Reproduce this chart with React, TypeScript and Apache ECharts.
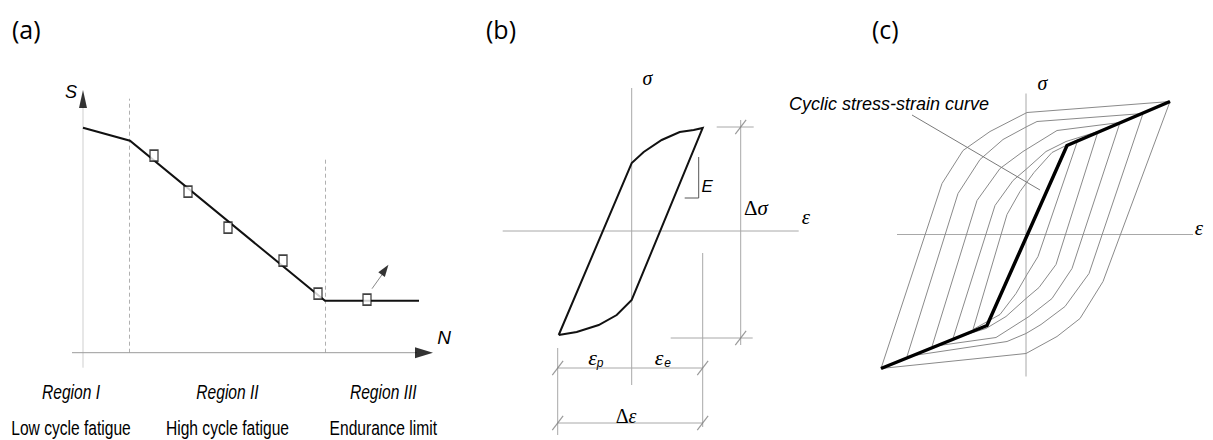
import React, { useEffect, useRef } from "react";
import * as echarts from "echarts";

// ---------- (a) S-N curve (arbitrary units, origin at the axes crossing) ----------
const snCycles = [0, 4.7, 24.2, 33.6];
const snStress = [22.5, 21.2, 5.2, 5.2];
const testCycles = [7.1, 10.5, 14.5, 20.0, 23.5, 28.4];
const testStress = [19.7, 16.1, 12.5, 9.2, 5.9, 5.3];
const regionBoundCycles = [4.65, 24.25];
const regionBoundTop = [25.4, 19.5];
const runoutArrowCycles = [28.9, 29.9];
const runoutArrowStress = [6.4, 7.8];
const runoutHead = [30.2, 8.3];
const regionNames = ["Region I", "Region II", "Region III"];
const regionTypes = ["Low cycle fatigue", "High cycle fatigue", "Endurance limit"];

// ---------- (b) single hysteresis loop ----------
const loopStrain = [-7.3, 0, 1.2, 3.0, 4.8, 6.2, 7.1, 0, -1.5, -3.3, -5.5, -7.3];
const loopStress = [-10.4, 6.8, 7.9, 9.1, 9.9, 10.1, 10.3, -6.9, -8.4, -9.4, -10.1, -10.4];
const modulusStrain = [5.3, 6.7, 6.7];
const modulusStress = [3.3, 3.3, 7.4];
const dimStressX = 10.9;
const dimStressTop = 10.4;
const dimStressBottom = -10.7;
const dimStrainLeft = -7.4;
const dimStrainRight = 7.1;
const dimStrainRow1 = -13.7;
const dimStrainRow2 = -19.2;

// ---------- (c) cyclic stress-strain curve and stable loops ----------
const cyclicStrain = [-14.5, -3.9, 4.1, 14.4];
const cyclicStress = [-13.4, -9.1, 8.9, 13.3];
const loop1Strain = [-14.5, -8.4, -6.3, -3.6, 0.1, 14.4, 7.7, 5.4, 3.1, 0.0, -14.5];
const loop1Stress = [-13.4, 5.1, 8.4, 10.3, 12.2, 13.3, -4.7, -8.4, -10.2, -11.9, -13.4];
const loop2Strain = [-11.9, -6.8, -4.6, -2.3, 0.1, 1.1, 11.7, 6.3, 3.9, 1.5, 0.0, -1.9, -11.9];
const loop2Stress = [-12.2, 4.1, 7.5, 9.5, 10.8, 11.3, 12.1, -3.9, -7.2, -9.0, -9.9, -10.7, -12.2];
const loop3Strain = [-9.4, -4.9, -2.6, -0.3, 3.1, 9.4, 4.6, 2.6, 0.3, -3.0, -9.4];
const loop3Stress = [-11.2, 3.4, 6.6, 8.3, 10.4, 11.2, -3.4, -6.4, -8.2, -10.3, -11.2];
const loop4Strain = [-7.3, -3.1, -1.3, 0.1, 2.0, 4.0, 7.2, 3.0, 1.3, 0.0, -2.0, -4.0, -7.3];
const loop4Stress = [-10.4, 2.9, 5.4, 6.6, 8.3, 9.3, 10.3, -3.0, -5.3, -6.4, -8.2, -9.4, -10.4];
const loop5Strain = [-5.3, -1.9, -0.6, 0.8, 2.6, 5.2, 1.2, 0.1, -1.0, -2.6, -5.3];
const loop5Stress = [-9.5, 2.0, 4.3, 6.2, 8.2, 9.5, -2.2, -4.0, -5.9, -8.0, -9.5];
const leaderStrain = [-11.4, 1.4];
const leaderStress = [11.95, 4.45];

const zip = (xs: number[], ys: number[]) => xs.map((x, i) => [x, ys[i]]);

const line = (g: number, pts: number[][], color: string, width: number, z = 2, type: any = "solid") => ({
  type: "line",
  xAxisIndex: g,
  yAxisIndex: g,
  data: pts,
  symbol: "none",
  silent: true,
  clip: false,
  z,
  lineStyle: { color, width, type, cap: "butt", join: "miter" },
});

const AX_A = 0, AX_B = 1, AX_C = 2;
const GRAY_AXIS = "#a8a8a8";
const GRAY_THIN = "#8a8a8a";

function buildOption() {
  const series: any[] = [];
  // ----- (a)
  series.push(line(AX_A, [[0, -1.5], [0, 24.6]], "#cfcfcf", 1));
  series.push(line(AX_A, [[-1.1, 0], [33.4, 0]], "#9a9a9a", 1));
  regionBoundCycles.forEach((n, i) =>
    series.push(line(AX_A, [[n, 0], [n, regionBoundTop[i]]], "#b0b0b0", 1, 1, [4, 3]))
  );
  series.push(line(AX_A, zip(snCycles, snStress), "#111", 2, 3));
  series.push(line(AX_A, zip(runoutArrowCycles, runoutArrowStress), "#888", 1, 3));
  series.push({
    type: "scatter", xAxisIndex: AX_A, yAxisIndex: AX_A, silent: true, z: 5,
    data: zip(testCycles, testStress), symbol: "rect", symbolSize: [8, 11],
    itemStyle: { color: "#fff", borderColor: "#111", borderWidth: 1.5 },
  });
  series.push({
    type: "scatter", xAxisIndex: AX_A, yAxisIndex: AX_A, silent: true, z: 5,
    data: [
      { value: [0, 25.37], symbolSize: [8, 18], symbolRotate: 0 },
      { value: [34.1, 0], symbolSize: [11, 18], symbolRotate: -90 },
      { value: runoutHead, symbolSize: [8, 12], symbolRotate: -35 },
    ],
    symbol: "triangle",
    itemStyle: { color: "#000" },
  });
  // ----- (b)
  series.push(line(AX_B, [[0, 14.3], [0, -15.4]], GRAY_AXIS, 1));
  series.push(line(AX_B, [[-12.9, 0], [16.7, 0]], GRAY_AXIS, 1));
  series.push(line(AX_B, zip(loopStrain, loopStress), "#111", 2, 3));
  series.push(line(AX_B, zip(modulusStrain, modulusStress), "#555", 1, 3));
  series.push(line(AX_B, [[dimStressX, 11.1], [dimStressX, -11.4]], GRAY_AXIS, 1));
  series.push(line(AX_B, [[8.5, dimStressTop], [12.2, dimStressTop]], GRAY_AXIS, 1));
  series.push(line(AX_B, [[3.9, dimStressBottom], [12.1, dimStressBottom]], GRAY_AXIS, 1));
  series.push(line(AX_B, [[dimStrainRight, -2.2], [dimStrainRight, -19.6]], GRAY_AXIS, 1));
  series.push(line(AX_B, [[dimStrainLeft, -11.7], [dimStrainLeft, -20.4]], GRAY_AXIS, 1));
  series.push(line(AX_B, [[dimStrainLeft, dimStrainRow1], [dimStrainRight, dimStrainRow1]], GRAY_AXIS, 1));
  series.push(line(AX_B, [[dimStrainLeft, dimStrainRow2], [dimStrainRight, dimStrainRow2]], GRAY_AXIS, 1));
  series.push({
    type: "scatter", xAxisIndex: AX_B, yAxisIndex: AX_B, silent: true, z: 4,
    data: [
      [dimStressX, dimStressTop], [dimStressX, dimStressBottom],
      [dimStrainLeft, dimStrainRow1], [dimStrainRight, dimStrainRow1],
      [dimStrainLeft, dimStrainRow2], [dimStrainRight, dimStrainRow2],
    ],
    symbol: "rect", symbolSize: [1.2, 18], symbolRotate: -37,
    itemStyle: { color: "#808080" },
  });
  // ----- (c)
  series.push(line(AX_C, [[0, 14.1], [0, -14.2]], GRAY_AXIS, 1));
  series.push(line(AX_C, [[-12.9, 0], [16.7, 0]], GRAY_AXIS, 1));
  [
    [loop1Strain, loop1Stress], [loop2Strain, loop2Stress], [loop3Strain, loop3Stress],
    [loop4Strain, loop4Stress], [loop5Strain, loop5Stress],
  ].forEach(([xs, ys]) => series.push(line(AX_C, zip(xs, ys), GRAY_THIN, 1, 2)));
  series.push(line(AX_C, zip(leaderStrain, leaderStress), "#7a7a7a", 1, 2));
  series.push(line(AX_C, zip(cyclicStrain, cyclicStress), "#000", 3.5, 4));

  const sans = "'Liberation Sans', Arial, sans-serif";
  const serif = "'Liberation Serif', 'Times New Roman', serif";
  const t = (x: number, y: number, text: string, style: any, extra: any = {}) => ({
    type: "text", x, y, silent: true, z: 10, ...extra,
    style: { text, fill: "#000", align: "center", verticalAlign: "middle", ...style },
  });
  const panelFont = { fontFamily: "'Open Sans', sans-serif", fontSize: 25, align: "left" };
  const regionX = [71, 227.5, 383.3];
  const graphic: any[] = [
    t(12, 28.5, "(a)", panelFont),
    t(486, 28.5, "(b)", panelFont),
    t(872, 28.5, "(c)", panelFont),
    t(71, 91.7, "S", { fontFamily: sans, fontStyle: "italic", fontSize: 18 }),
    t(444, 337, "N", { fontFamily: sans, fontStyle: "italic", fontSize: 19 }),
    ...regionNames.map((s, i) =>
      t(regionX[i], 392, s, { fontFamily: sans, fontStyle: "italic", fontSize: 19.5 }, { scaleX: 0.8 })
    ),
    ...regionTypes.map((s, i) =>
      t(regionX[i], 428, s, { fontFamily: sans, fontSize: 19.5 }, { scaleX: 0.8 })
    ),
    t(647.5, 77.5, "σ", { fontFamily: serif, fontStyle: "italic", fontSize: 20 }),
    t(806, 216.7, "ε", { fontFamily: serif, fontStyle: "italic", fontSize: 21 }),
    t(701.5, 186.7, "E", { fontFamily: sans, fontStyle: "italic", fontSize: 17, align: "left" }),
    t(756, 207.5, "{d|Δ}{s|σ}", {
      fontFamily: serif, fontSize: 21,
      rich: { d: { fontFamily: serif, fontSize: 21 }, s: { fontFamily: serif, fontStyle: "italic", fontSize: 21 } },
    }),
    t(592.5, 357.5, "ε", { fontFamily: serif, fontStyle: "italic", fontSize: 22 }),
    t(600, 363, "p", { fontFamily: sans, fontStyle: "italic", fontSize: 12 }),
    t(659, 357.5, "ε", { fontFamily: serif, fontStyle: "italic", fontSize: 22 }),
    t(667.5, 363, "e", { fontFamily: sans, fontStyle: "italic", fontSize: 12 }),
    t(626, 415.5, "{d|Δ}{s|ε}", {
      fontFamily: serif, fontSize: 20,
      rich: { d: { fontFamily: serif, fontSize: 20 }, s: { fontFamily: serif, fontStyle: "italic", fontSize: 20 } },
    }),
    t(1042.5, 83.3, "σ", { fontFamily: serif, fontStyle: "italic", fontSize: 20 }),
    t(1199, 228, "ε", { fontFamily: serif, fontStyle: "italic", fontSize: 21 }),
    t(789, 104, "Cyclic stress-strain curve", { fontFamily: sans, fontStyle: "italic", fontSize: 18, align: "left" }),
  ];

  const axisPair = (g: number, xmin: number, xmax: number, ymin: number, ymax: number) => ({
    x: { type: "value", gridIndex: g, min: xmin, max: xmax, show: false },
    y: { type: "value", gridIndex: g, min: ymin, max: ymax, show: false },
  });
  const a = axisPair(0, -2, 37, -2, 27);
  const b = axisPair(1, -14, 18, -20.5, 15.5);
  const c = axisPair(2, -16, 18, -15, 15);

  return {
    animation: false,
    backgroundColor: "#ffffff",
    grid: [
      { left: 63, top: 82.7, width: 390, height: 290 },
      { left: 491.7, top: 76, width: 320, height: 360 },
      { left: 866, top: 84.5, width: 340, height: 300 },
    ],
    xAxis: [a.x, b.x, c.x],
    yAxis: [a.y, b.y, c.y],
    series,
    graphic,
  };
}

export default function App() {
  const ref = useRef<HTMLDivElement>(null);
  useEffect(() => {
    if (!ref.current) return;
    const chart = echarts.init(ref.current, undefined, { renderer: "svg" });
    chart.setOption(buildOption() as any);
    return () => chart.dispose();
  }, []);
  return (
    <div
      ref={ref}
      style={{ position: "fixed", left: 0, top: 0, width: 1213, height: 440, background: "#fff" }}
    />
  );
}
